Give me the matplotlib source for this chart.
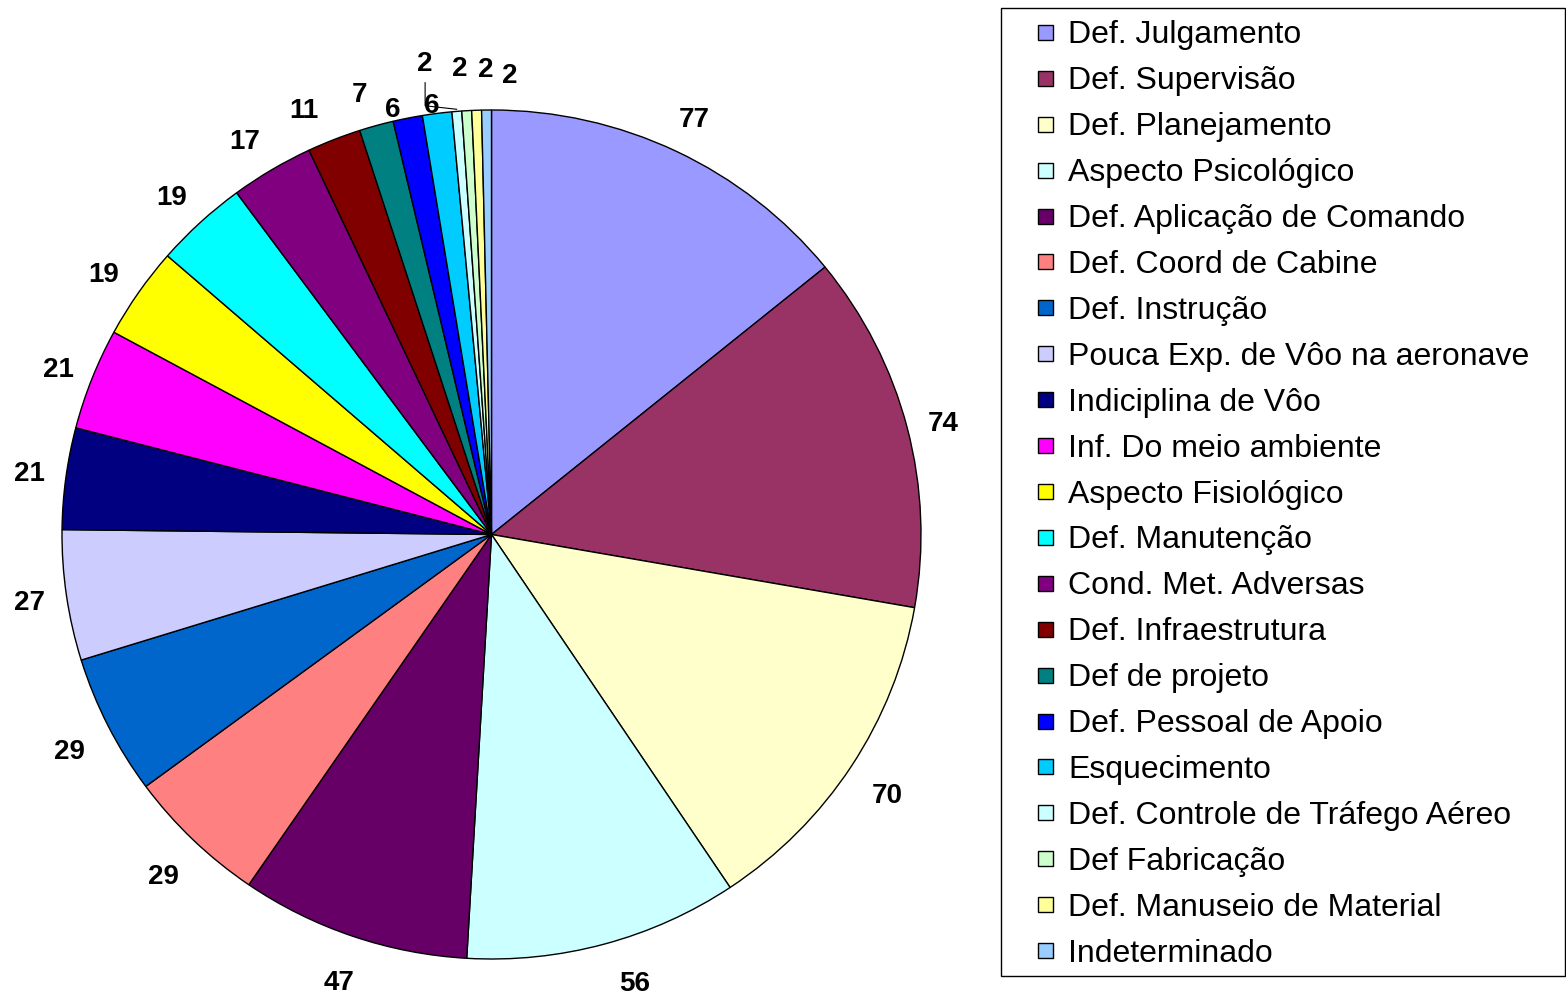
import numpy as np
import matplotlib
matplotlib.use('Agg')
import matplotlib.pyplot as plt
from matplotlib.patches import Rectangle

plt.rcParams['font.family'] = ['Liberation Sans', 'DejaVu Sans']

categories = ['Def. Julgamento', 'Def. Supervisão', 'Def. Planejamento',
              'Aspecto Psicológico', 'Def. Aplicação de Comando',
              'Def. Coord de Cabine', 'Def. Instrução',
              'Pouca Exp. de Vôo na aeronave', 'Indiciplina de Vôo',
              'Inf. Do meio ambiente', 'Aspecto Fisiológico',
              'Def. Manutenção', 'Cond. Met. Adversas', 'Def. Infraestrutura',
              'Def de projeto', 'Def. Pessoal de Apoio', 'Esquecimento',
              'Def. Controle de Tráfego Aéreo', 'Def Fabricação',
              'Def. Manuseio de Material', 'Indeterminado']
values = [77, 74, 70, 56, 47, 29, 29, 27, 21, 21, 19, 19, 17, 11, 7, 6, 6,
          2, 2, 2, 2]
colors = ['#9999FF', '#993366', '#FFFFCC', '#CCFFFF', '#660066', '#FF8080',
          '#0066CC', '#CCCCFF', '#000080', '#FF00FF', '#FFFF00', '#00FFFF',
          '#800080', '#800000', '#008080', '#0000FF', '#00CCFF', '#CCFFFF',
          '#CCFFCC', '#FFFF99', '#99CCFF']

W, H = 1566, 997
fig = plt.figure(figsize=(W / 100, H / 100), dpi=100)

# pie centre and radii in pixels (original is slightly wider than tall)
cx, cy, rx, ry = 491.5, 534.5, 429.5, 424.5
ax = fig.add_axes([(cx - rx) / W, (H - cy - ry) / H, 2 * rx / W, 2 * ry / H])
wedges, _ = ax.pie(values, colors=colors, startangle=90, counterclock=False,
                   radius=1, wedgeprops=dict(edgecolor='black', linewidth=1))
ax.set_aspect('auto')
ax.set_xlim(-1, 1)
ax.set_ylim(-1, 1)
ax.set_axis_off()

# label tweaks: index -> (angle shift in degrees, radius)
tweak = {3: (2.5, 1.095), 12: (1.1, 1.09), 13: (2.1, 1.09), 14: (1.0, 1.08),
         15: (1.75, 1.026), 16: (0.6, 1.02),
         17: (3.3, 1.12), 18: (0.5, 1.10), 19: (-1.3, 1.094), 20: (-2.9, 1.08)}
# small pixel nudges (dx, dy) for the outer labels
nudge = {0: (0, -7), 1: (-6, -7), 2: (0, -7), 3: (0, -7), 4: (0, -7),
         5: (0, -7), 6: (0, -7), 7: (6, -1), 8: (6, -1), 9: (6, -7),
         10: (0, -7), 11: (0, -7)}

for i, (w, v) in enumerate(zip(wedges, values)):
    mid = (w.theta1 + w.theta2) / 2
    shift, rl = tweak.get(i, (0, 1.1))
    a = np.deg2rad(mid + shift)
    dx, dy = nudge.get(i, (0, 0))
    x, y = rl * np.cos(a) + dx / rx, rl * np.sin(a) + dy / ry
    ax.text(x, y, str(v), ha='center', va='center', fontsize=20,
            fontweight='bold', clip_on=False)
    if i == 17:
        # leader line from the raised label down to its slice
        m = np.deg2rad(mid)
        ax.plot([x, x, np.cos(m) * 1.005], [y - 0.045, 1.01, np.sin(m) * 1.005],
                color='black', lw=0.8, clip_on=False)

# legend box drawn by hand to follow the original layout
fig.patches.append(Rectangle((1001 / W, (H - 976) / H), (W - 1 - 1001) / W,
                             (976 - 8) / H, transform=fig.transFigure,
                             fill=False, edgecolor='black', lw=1))
row0, pitch = 32, 45.9
for i, (lab, c) in enumerate(zip(categories, colors)):
    yc = row0 + pitch * i
    fig.patches.append(Rectangle((1038 / W, (H - yc - 8) / H), 15 / W, 15 / H,
                                 transform=fig.transFigure, facecolor=c,
                                 edgecolor='black', lw=1))
    fig.text(1068 / W, (H - yc) / H, lab, ha='left', va='center_baseline',
             fontsize=23)

fig.savefig('out.png', dpi=100)
